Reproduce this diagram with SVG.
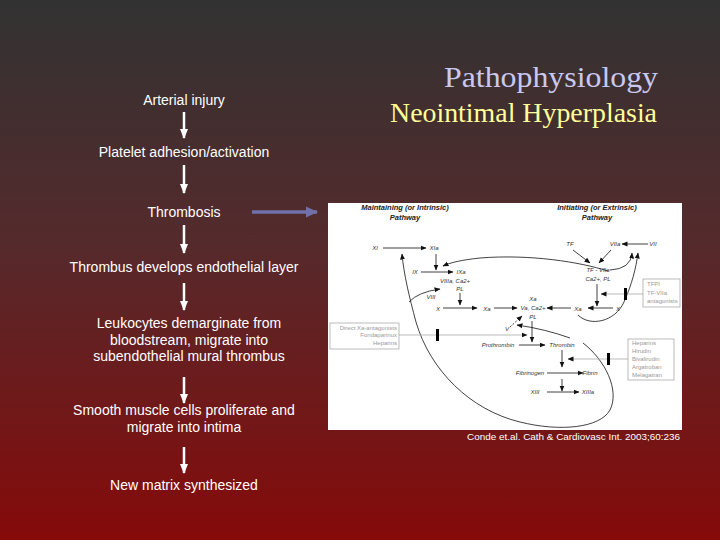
<svg xmlns="http://www.w3.org/2000/svg" width="720" height="540" viewBox="0 0 720 540">
<defs>
<linearGradient id="bg" x1="0" y1="0" x2="0" y2="1">
<stop offset="0" stop-color="#323232"/>
<stop offset="0.45" stop-color="#552a2c"/>
<stop offset="1" stop-color="#860a0a"/>
</linearGradient>
<marker id="wh" markerUnits="userSpaceOnUse" markerWidth="10" markerHeight="10" viewBox="0 0 10 10" refX="9" refY="5" orient="auto">
<path d="M0,1 L10,5 L0,9 Z" fill="#ffffff"/>
</marker>
<marker id="bl" markerUnits="userSpaceOnUse" markerWidth="12" markerHeight="12" viewBox="0 0 12 12" refX="11" refY="6" orient="auto">
<path d="M0,0.5 L12,6 L0,11.5 Z" fill="#7070aa"/>
</marker>
<marker id="ah" markerUnits="userSpaceOnUse" markerWidth="6" markerHeight="6" viewBox="0 0 6 6" refX="5.5" refY="3" orient="auto">
<path d="M0,0.5 L6,3 L0,5.5 Z" fill="#111111"/>
</marker>
</defs>
<style>
.lt{font-family:"Liberation Sans",Arial,sans-serif;font-size:14px;fill:#ffffff;text-anchor:middle}
.wa{stroke:#ffffff;stroke-width:2.5;fill:none;marker-end:url(#wh)}
.hd{font-family:"Liberation Sans",Arial,sans-serif;font-size:7.5px;font-weight:bold;font-style:italic;fill:#222;text-anchor:middle}
.lb{font-family:"Liberation Sans",Arial,sans-serif;font-size:6px;font-style:italic;fill:#333;text-anchor:middle}
.ib{font-family:"Liberation Sans",Arial,sans-serif;font-size:6px;fill:#999}
.fa{stroke:#111;stroke-width:0.8;fill:none;marker-end:url(#ah)}
.il{stroke:#aaaaaa;stroke-width:0.8;fill:none;marker-end:url(#ah)}
.bx{fill:#ffffff;stroke:#aaaaaa;stroke-width:0.8}
</style>
<rect x="0" y="0" width="720" height="540" fill="url(#bg)"/>

<g id="title">
<text x="444" y="87" font-family="Liberation Serif,'Times New Roman',serif" font-size="29" fill="#c8c8f0" textLength="214" lengthAdjust="spacingAndGlyphs">Pathophysiology</text>
<text x="390" y="122" font-family="Liberation Serif,'Times New Roman',serif" font-size="27" fill="#ffff99" textLength="267" lengthAdjust="spacingAndGlyphs">Neointimal Hyperplasia</text>
</g>

<g id="n1"><text class="lt" x="184" y="105">Arterial injury</text></g>
<g id="n2"><text class="lt" x="184" y="157">Platelet adhesion/activation</text></g>
<g id="n3"><text class="lt" x="184" y="217">Thrombosis</text></g>
<g id="n4"><text class="lt" x="184" y="272">Thrombus develops endothelial layer</text></g>
<g id="n5"><text class="lt" x="189" y="328">Leukocytes demarginate from</text><text class="lt" x="189" y="345">bloodstream, migrate into</text><text class="lt" x="189" y="361">subendothelial mural thrombus</text></g>
<g id="n6"><text class="lt" x="184" y="415">Smooth muscle cells proliferate and</text><text class="lt" x="184" y="432">migrate into intima</text></g>
<g id="n7"><text class="lt" x="184" y="490">New matrix synthesized</text></g>

<g id="connectors">
<line class="wa" x1="184" y1="112" x2="184" y2="138"/>
<line class="wa" x1="184" y1="165" x2="184" y2="193"/>
<line class="wa" x1="184" y1="225" x2="184" y2="253"/>
<line class="wa" x1="184" y1="283" x2="184" y2="310"/>
<line class="wa" x1="184" y1="377" x2="184" y2="403"/>
<line class="wa" x1="184" y1="447" x2="184" y2="473"/>
<line x1="252" y1="212" x2="317" y2="212" stroke="#7070aa" stroke-width="3.5" marker-end="url(#bl)"/>
</g>

<g id="figure">
<rect x="328" y="203" width="354" height="227" fill="#ffffff"/>
<text class="hd" x="405" y="210">Maintaining (or Intrinsic)</text>
<text class="hd" x="405" y="220">Pathway</text>
<text class="hd" x="597" y="210">Initiating (or Extrinsic)</text>
<text class="hd" x="597" y="220">Pathway</text>

<text class="lb" x="375" y="250">XI</text>
<text class="lb" x="434" y="250">XIa</text>
<text class="lb" x="415" y="274">IX</text>
<text class="lb" x="461" y="274">IXa</text>
<text class="lb" x="455" y="283">VIIIa, Ca2+</text>
<text class="lb" x="460" y="291">PL</text>
<text class="lb" x="431" y="299">VIII</text>
<text class="lb" x="438" y="311">X</text>
<text class="lb" x="487" y="311">Xa</text>
<text class="lb" x="533" y="301">Xa</text>
<text class="lb" x="533" y="310">Va, Ca2+</text>
<text class="lb" x="533" y="319">PL</text>
<text class="lb" x="507" y="331">V</text>
<text class="lb" x="498" y="347">Prothrombin</text>
<text class="lb" x="562" y="347">Thrombin</text>
<text class="lb" x="530" y="375">Fibrinogen</text>
<text class="lb" x="590" y="375">Fibrin</text>
<text class="lb" x="535" y="394">XIII</text>
<text class="lb" x="588" y="394">XIIIa</text>
<text class="lb" x="570" y="246">TF</text>
<text class="lb" x="615" y="246">VIIa</text>
<text class="lb" x="653" y="246">VII</text>
<text class="lb" x="598" y="272">TF - VIIa</text>
<text class="lb" x="598" y="281">Ca2+, PL</text>
<text class="lb" x="578" y="311">Xa</text>
<text class="lb" x="618" y="311">X</text>

<line class="fa" x1="383" y1="248" x2="426" y2="248"/>
<line class="fa" x1="436" y1="254" x2="436" y2="270"/>
<line class="fa" x1="421" y1="272" x2="453" y2="272"/>
<line class="fa" x1="460" y1="293" x2="460" y2="305"/>
<line class="fa" x1="443" y1="308" x2="477" y2="308"/>
<line class="fa" x1="494" y1="308" x2="517" y2="308"/>
<path class="fa" d="M409,302 Q418,292 440,289"/>
<line class="fa" x1="532" y1="321" x2="532" y2="342"/>
<line class="fa" x1="519" y1="345" x2="545" y2="345"/>
<line class="fa" x1="510" y1="327" x2="522" y2="316" stroke-dasharray="2,1.5"/>
<path class="fa" d="M570,338 Q545,329 517,325"/>
<line class="fa" x1="562" y1="350" x2="562" y2="367"/>
<line class="fa" x1="547" y1="373" x2="583" y2="373"/>
<line class="fa" x1="562" y1="379" x2="562" y2="391"/>
<line class="fa" x1="547" y1="392" x2="579" y2="392" stroke="#999"/>
<line class="fa" x1="573" y1="250" x2="590" y2="263"/>
<line class="fa" x1="611" y1="250" x2="599" y2="263"/>
<line class="fa" x1="648" y1="244" x2="622" y2="244"/>
<path class="fa" d="M610,270 Q631,269 632,253"/>
<path class="fa" d="M578,315 C590,327 615,322 624,302 C632,284 636,268 638,253"/>
<path class="fa" d="M608,271 C580,262 530,254 480,258 C462,260 452,262 443,266"/>
<line class="fa" x1="597" y1="284" x2="597" y2="306"/>
<line class="fa" x1="613" y1="308" x2="588" y2="308"/>
<line class="fa" x1="571" y1="308" x2="547" y2="308"/>
<path class="fa" d="M583,343 C605,360 620,390 610,410 C600,428 560,432 520,422 C470,410 430,370 416,322 C409,296 404,275 402,254"/>

<rect class="bx" x="643" y="279" width="37" height="28"/>
<text class="ib" x="647" y="286">TFPI</text>
<text class="ib" x="647" y="295">TF-VIIa</text>
<text class="ib" x="647" y="303">antagonists</text>
<line class="il" x1="643" y1="294" x2="601" y2="294"/>
<rect x="624" y="288" width="3" height="12" fill="#000"/>

<rect class="bx" x="330" y="323" width="69" height="26"/>
<text class="ib" x="397" y="330" text-anchor="end">Direct Xa-antagonists</text>
<text class="ib" x="397" y="337" text-anchor="end">Fondaparinux</text>
<text class="ib" x="397" y="345" text-anchor="end">Heparins</text>
<line class="il" x1="399" y1="335" x2="527" y2="335"/>
<rect x="436" y="329" width="3" height="12" fill="#000"/>

<rect class="bx" x="628" y="339" width="46" height="41"/>
<text class="ib" x="632" y="345">Heparins</text>
<text class="ib" x="632" y="353">Hirudin</text>
<text class="ib" x="632" y="361">Bivalirudin</text>
<text class="ib" x="632" y="369">Argatroban</text>
<text class="ib" x="632" y="377">Melagatran</text>
<line class="il" x1="628" y1="359" x2="568" y2="359"/>
<rect x="607" y="353" width="3" height="12" fill="#000"/>
</g>

<g id="citation">
<text x="467" y="440" font-family="Liberation Sans,Arial,sans-serif" font-size="9.5" fill="#ffffff" textLength="213" lengthAdjust="spacingAndGlyphs">Conde et.al. Cath &amp; Cardiovasc Int. 2003;60:236</text>
</g>
</svg>
